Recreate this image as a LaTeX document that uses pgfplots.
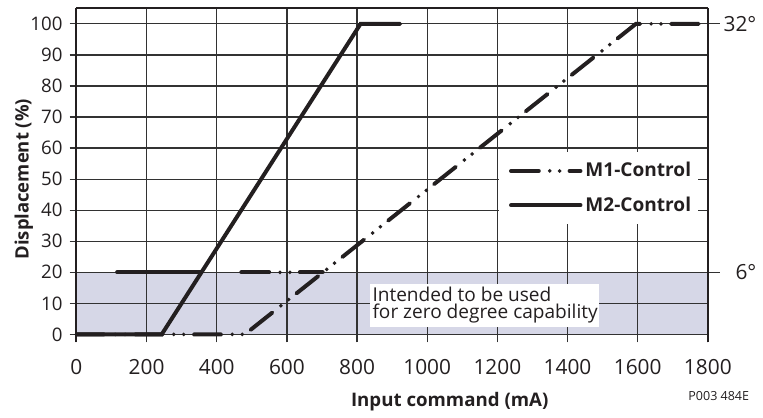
\documentclass[border=0pt]{standalone}
\usepackage{fontspec}
\setmainfont{Open Sans}
\usepackage{pgfplots}
\pgfplotsset{compat=1.18}
\definecolor{shade}{RGB}{214,215,231}
\definecolor{gridc}{RGB}{50,50,50}
\definecolor{ink}{RGB}{35,31,32}
\tikzset{
  m1/.style={ink, line width=2pt, line cap=round, dash pattern=on 14pt off 5.5pt on 0pt off 5pt on 0pt off 5pt},
  m2/.style={ink, line width=2pt, line cap=round},
}
\begin{document}
\begin{tikzpicture}
\begin{axis}[
  set layers=standard, clip=false,
  scale only axis, width=318pt, height=168.3pt,
  xmin=0, xmax=1800, ymin=-2.6, ymax=105,
  axis x line*=bottom, axis y line*=left,
  x axis line style={draw=none},
  y axis line style={ink, line width=1pt},
  xtick={0,200,...,1800}, ytick={0,10,...,100},
  grid=major, major grid style={gridc, line width=0.6pt},
  x tick style={draw=none},
  y tick style={gridc, line width=0.6pt},
  tick align=outside, major tick length=3.5pt,
  /pgf/number format/assume math mode=true,
  /pgf/number format/1000 sep={},
  x tick label style={font=\fontsize{10.5}{12}\selectfont, text=ink, yshift=-1.5pt},
  y tick label style={font=\fontsize{9.4}{10}\selectfont, text=ink},
  xlabel={Input command (mA)},
  ylabel={Displacement (\%)},
  x label style={at={(axis description cs:0.5912,-0.177)}, anchor=center, font=\bfseries\fontsize{9.4}{11}\selectfont, text=ink},
  y label style={at={(axis description cs:-0.0835,0.4887)}, anchor=center, rotate=0, font=\bfseries\fontsize{9.3}{11}\selectfont, text=ink},
  legend cell align=left,
  legend style={draw=none, fill=none, at={(axis description cs:0.8317,0.462)}, anchor=center,
    font=\bfseries\fontsize{9.6}{11}\selectfont, text=ink, row sep=5.5pt, inner sep=0pt,
    nodes={inner sep=1.5pt}},
  legend image code/.code={\draw[#1] (0pt,0pt) -- (35pt,0pt);},
]
% shaded zero-degree band
\addplot[draw=none, fill=shade, on layer=axis background, forget plot] coordinates {(0,0) (1800,0) (1800,20) (0,20)} -- cycle;
% white boxes behind legend and note
\fill[white] (axis cs:1206,35.5) rectangle (axis cs:1772,58.8);
\fill[white] (axis cs:838,2.46) rectangle (axis cs:1489,16.3);
\node[anchor=base west, inner sep=0pt, font=\fontsize{9.6}{10}\selectfont, text=ink] at (axis cs:843,10.5) {Intended to be used};
\node[anchor=base west, inner sep=0pt, font=\fontsize{9.6}{10}\selectfont, text=ink] at (axis cs:843,5.2) {for zero degree capability};
% reference segments at 6 deg (20 %)
\addplot[m2, forget plot] coordinates {(116,20) (356,20)};
\addplot[m1, forget plot] coordinates {(470,20) (702,20)};
% curves
\addplot[m1] coordinates {(0,0) (480,0) (1595,100) (1800,100)};
\addlegendentry{M1-Control}
\addplot[m2] coordinates {(0,0) (243,0) (810,100) (923,100)};
\addlegendentry{M2-Control}
\coordinate (pcode) at (axis description cs:1.0173,-0.161);
\coordinate (bbl) at (axis description cs:-0.1211,-0.1931);
\coordinate (btr) at (axis description cs:1.0786,1.0250);
\end{axis}
\begin{axis}[
  scale only axis, width=318pt, height=168.3pt,
  xmin=0, xmax=1800, ymin=-2.6, ymax=105,
  axis x line*=top, axis y line*=right,
  axis line style={ink, line width=1pt},
  xtick=\empty, ytick={20,100}, yticklabels={6°,32°},
  tick align=outside, major tick length=6pt,
  y tick style={gridc, line width=0.6pt},
  y tick label style={font=\fontsize{10.5}{12}\selectfont, text=ink, anchor=east, xshift=22pt},
]
\end{axis}
\node[font=\fontsize{6.3}{7}\selectfont, text=ink] at (pcode) {P003 484E};
\path (bbl) rectangle (btr);
\end{tikzpicture}
\end{document}
